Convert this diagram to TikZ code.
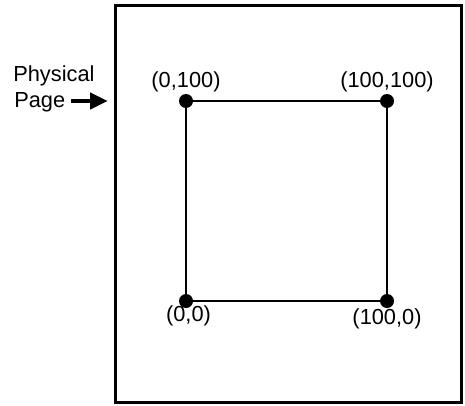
\documentclass[tikz,border=0pt]{standalone}
\usepackage{fontspec}
\setmainfont{Liberation Sans}
\usetikzlibrary{arrows.meta, positioning}

\begin{document}
\begin{tikzpicture}[
      x=0.02cm, y=-0.02cm,
      node distance=0.05cm,
      corner/.style={circle, fill=black, inner sep=0pt, minimum size=0.28cm},
      lbl/.style={font=\fontsize{12.4}{14}\selectfont, inner sep=0pt},
      side/.style={draw=black, line width=0.75pt},
      pointer/.style={-{Triangle[length=0.36cm, width=0.32cm]}, line width=2.8pt}
    ]
    \useasboundingbox (0,0) rectangle (465,405);
    % physical page
    \node[draw, line width=1.7pt, minimum width=6.92cm, minimum height=7.94cm,
          inner sep=0pt] (page) at (288.5,204) {};
    % corners of the square
    \node[corner] (nw) at (186,101) {};
    \node[corner] (ne) at (387,101) {};
    \node[corner] (sw) at (186,301) {};
    \node[corner] (se) at (387,301) {};
    \draw[side] (nw) -- (ne);
    \draw[side] (ne) -- (se);
    \draw[side] (se) -- (sw);
    \draw[side] (sw) -- (nw);
    \node[lbl, above=0.02cm of nw] {(0,100)};
    \node[lbl, above=0.02cm of ne] {(100,100)};
    \node[lbl, below=-0.06cm of sw, xshift=0.05cm] {(0,0)};
    \node[lbl, below=0.0cm of se] {(100,0)};
    % label with arrow
    \node[lbl, anchor=base west] (phys) at (13,82) {Physical};
    \node[lbl, anchor=base west] (pg) at (14,108) {Page};
    \coordinate (tip) at (108,101);
    \path (pg.east |- tip) ++(0.10cm,0) coordinate (tail);
    \draw[pointer] (tail) -- (tip);
  \end{tikzpicture}
\end{document}
